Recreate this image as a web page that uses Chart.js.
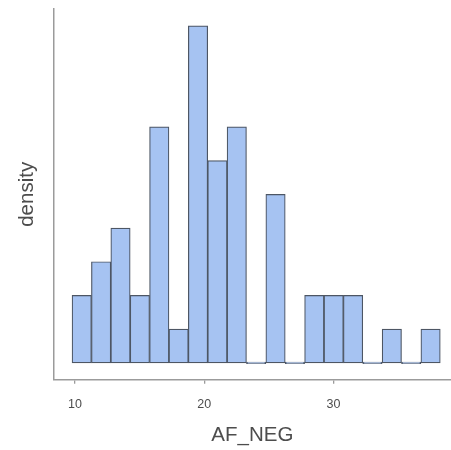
<!DOCTYPE html>
<html>
<head>
<meta charset="utf-8">
<script src="https://cdn.jsdelivr.net/npm/chart.js@4/dist/chart.umd.min.js"></script>
<style>
html,body{margin:0;padding:0;background:#fff;}
canvas{display:block;}
</style>
</head>
<body>
<canvas id="c" width="451" height="450"></canvas>
<script>
const binCenters = [10.52, 12.02, 13.52, 15.02, 16.52, 18.02, 19.52, 21.02, 22.52, 24.02, 25.52, 27.02, 28.52, 30.02, 31.52, 33.02, 34.52, 36.02, 37.52];
const counts = [2, 3, 4, 2, 7, 1, 10, 6, 7, 0, 5, 0, 2, 2, 2, 0, 1, 0, 1];
const xTicks = [10, 20, 30];
const xTitle = 'AF_NEG';
const yTitle = 'density';

const pts = binCenters.map((x, i) => ({x: x, y: counts[i]}));
const axisColor = '#9b9b9b';
const textColor = '#4d4d4d';
const fontFam = '"Liberation Sans", Arial, sans-serif';

new Chart(document.getElementById('c'), {
  type: 'bar',
  data: {
    datasets: [{
      data: pts,
      backgroundColor: '#a6c3f2',
      borderColor: '#4d5664',
      borderWidth: 1.2,
      borderSkipped: false,
      barPercentage: 1,
      categoryPercentage: 1,
      minBarLength: 1.6
    }]
  },
  options: {
    responsive: false,
    animation: false,
    layout: {padding: {top: 9, right: 0, left: 0, bottom: 0}},
    plugins: {legend: {display: false}, tooltip: {enabled: false}},
    scales: {
      x: {
        type: 'linear',
        offset: false,
        min: 8.35,
        max: 39.1,
        afterBuildTicks: (s) => { s.ticks = xTicks.map(v => ({value: v})); },
        afterFit: (s) => { s.height = 70.3; },
        grid: {display: true, offset: false, drawOnChartArea: false, drawTicks: true, tickLength: 4, color: axisColor, lineWidth: 1.3},
        border: {display: true, color: axisColor, width: 1.5},
        ticks: {color: textColor, padding: 13, font: {family: fontFam, size: 12.5}, maxRotation: 0},
        title: {display: true, text: xTitle, color: textColor, font: {family: fontFam, size: 20.5}, padding: {top: 0, bottom: 2.2}}
      },
      y: {
        min: -0.5,
        max: 10.5,
        afterFit: (s) => { s.width = 53.7; },
        grid: {display: false},
        border: {display: true, color: axisColor, width: 1.5},
        ticks: {display: false},
        title: {display: true, text: yTitle, color: textColor, font: {family: fontFam, size: 20.5}, padding: {top: 15, bottom: 0}}
      }
    }
  }
});
</script>
</body>
</html>
